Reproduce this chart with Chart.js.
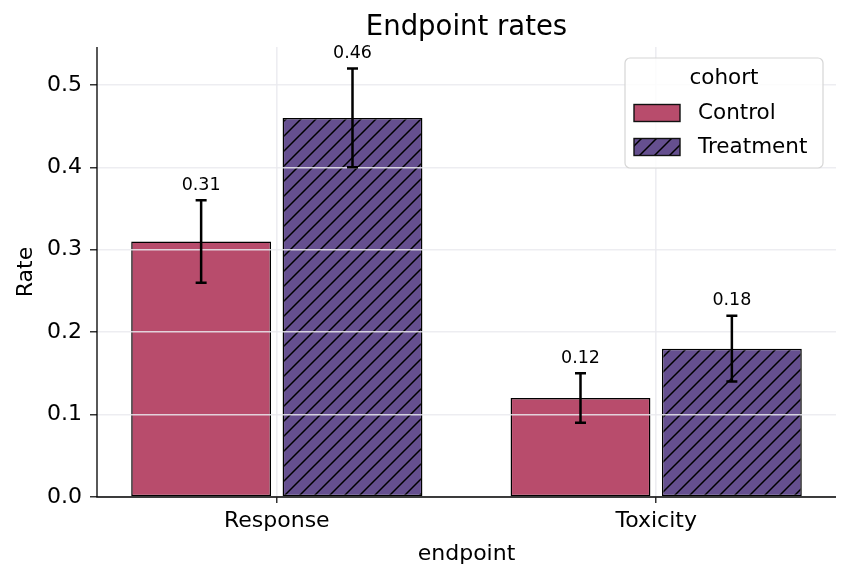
<!DOCTYPE html>
<html lang="en">
<head>
<meta charset="UTF-8">
<title>Endpoint rates</title>
<style>
  body { margin: 0; background: #fff; }
  canvas { display: block; }
</style>
</head>
<body>
<canvas id="chart" width="850" height="581"></canvas>
<script src="https://cdn.jsdelivr.net/npm/chart.js@4.4.0/dist/chart.umd.min.js"></script>
<script>
// data
var categories = ['Response', 'Toxicity'];
var cohorts = ['Control', 'Treatment'];
var controlRates = [0.31, 0.12];
var treatmentRates = [0.46, 0.18];
var controlErr = [0.05, 0.03];
var treatmentErr = [0.06, 0.04];

var FONT = 'DejaVu Sans';
var controlColor = '#b84c6c';
var treatmentColor = '#654f8f';
var gridColor = 'rgba(234,234,238,0.85)';

// diagonal hatch for the treatment bars
function makeHatch(base) {
  var s = 15;
  var c = document.createElement('canvas');
  c.width = s; c.height = s;
  var g = c.getContext('2d');
  g.fillStyle = base;
  g.fillRect(0, 0, s, s);
  g.strokeStyle = '#000';
  g.lineWidth = 1.5;
  g.beginPath();
  g.moveTo(0, s); g.lineTo(s, 0);
  g.moveTo(-s / 2, s / 2); g.lineTo(s / 2, -s / 2);
  g.moveTo(s / 2, s * 1.5); g.lineTo(s * 1.5, s / 2);
  g.stroke();
  return g.createPattern(c, 'repeat');
}
var hatch = makeHatch(treatmentColor);

function toPoints(vals) {
  return vals.map(function (v, i) { return { x: i, y: v }; });
}

var errors = [controlErr, treatmentErr];

// error bars + value labels, and the left/bottom spines
var errorBars = {
  id: 'errorBars',
  afterDraw: function (chart) {
    var ctx = chart.ctx;
    var ys = chart.scales.y;
    var a = chart.chartArea;
    ctx.save();
    ctx.strokeStyle = '#000';
    ctx.lineWidth = 1.3;
    ctx.beginPath();
    ctx.moveTo(a.left, a.top); ctx.lineTo(a.left, a.bottom); ctx.lineTo(a.right, a.bottom);
    ctx.stroke();
    chart.data.datasets.forEach(function (ds, di) {
      var meta = chart.getDatasetMeta(di);
      meta.data.forEach(function (bar, i) {
        var v = ds.data[i].y;
        var e = errors[di][i];
        var yTop = ys.getPixelForValue(v + e);
        var yBot = ys.getPixelForValue(v - e);
        ctx.strokeStyle = '#000';
        ctx.lineWidth = 2.5;
        ctx.beginPath();
        ctx.moveTo(bar.x, yTop); ctx.lineTo(bar.x, yBot);
        ctx.moveTo(bar.x - 5.5, yTop); ctx.lineTo(bar.x + 5.5, yTop);
        ctx.moveTo(bar.x - 5.5, yBot); ctx.lineTo(bar.x + 5.5, yBot);
        ctx.stroke();
        ctx.fillStyle = '#000';
        ctx.font = '17.5px "' + FONT + '"';
        ctx.textAlign = 'center';
        ctx.textBaseline = 'middle';
        ctx.fillText(v.toFixed(2), bar.x, yTop - 15);
      });
    });
    ctx.restore();
  }
};

var legendBox = {
  id: 'legendBox',
  afterDraw: function (chart) {
    var ctx = chart.ctx;
    var a = chart.chartArea;
    var w = 198, h = 110;
    var x = a.right - 13 - w, y = a.top + 11;
    ctx.save();
    ctx.beginPath();
    ctx.roundRect(x, y, w, h, 5);
    ctx.fillStyle = 'rgba(255,255,255,0.85)';
    ctx.fill();
    ctx.strokeStyle = '#d6d6d6';
    ctx.lineWidth = 1.2;
    ctx.stroke();
    ctx.fillStyle = '#000';
    ctx.font = '21.5px "' + FONT + '"';
    ctx.textAlign = 'center';
    ctx.textBaseline = 'middle';
    ctx.fillText('cohort', x + w / 2, y + 20);
    chart.data.datasets.forEach(function (ds, i) {
      var cy = y + 55 + i * 34;
      ctx.fillStyle = ds.backgroundColor;
      ctx.fillRect(x + 9, cy - 8.5, 46, 17);
      ctx.strokeStyle = '#111';
      ctx.lineWidth = 1.4;
      ctx.strokeRect(x + 9, cy - 8.5, 46, 17);
      ctx.fillStyle = '#000';
      ctx.textAlign = 'left';
      ctx.fillText(ds.label, x + 73, cy);
    });
    ctx.restore();
  }
};

new Chart(document.getElementById('chart'), {
  type: 'bar',
  data: {
    datasets: [
      {
        label: cohorts[0],
        data: toPoints(controlRates),
        backgroundColor: controlColor,
        borderColor: '#000',
        borderWidth: 1.5,
        borderSkipped: false
      },
      {
        label: cohorts[1],
        data: toPoints(treatmentRates),
        backgroundColor: hatch,
        borderColor: '#000',
        borderWidth: 1.5,
        borderSkipped: false
      }
    ]
  },
  options: {
    responsive: false,
    animation: false,
    devicePixelRatio: 1,
    categoryPercentage: 0.798,
    barPercentage: 0.924,
    layout: { padding: { left: 0, right: 14, top: 0, bottom: 0 } },
    plugins: {
      legend: { display: false },
      tooltip: { enabled: false },
      title: {
        display: true,
        text: 'Endpoint rates',
        fullSize: false,
        color: '#000',
        font: { family: FONT, size: 27.5, weight: 'normal' },
        padding: { top: 11, bottom: 3 }
      }
    },
    scales: {
      x: {
        type: 'linear',
        min: -0.474,
        max: 1.474,
        offset: false,
        afterBuildTicks: function (scale) {
          scale.ticks = categories.map(function (c, i) { return { value: i }; });
        },
        afterFit: function (scale) { scale.height = 84; },
        ticks: {
          color: '#000',
          font: { family: FONT, size: 22 },
          padding: 5,
          maxRotation: 0,
          autoSkip: false,
          callback: function (v) { return categories[v]; }
        },
        grid: {
          z: 1,
          offset: false,
          color: gridColor,
          lineWidth: 1.6,
          tickColor: '#000',
          tickLength: 6,
          tickWidth: 1.2
        },
        border: { display: false },
        title: {
          display: true,
          text: 'endpoint',
          color: '#000',
          font: { family: FONT, size: 22 },
          padding: { top: 0, bottom: 14 }
        }
      },
      y: {
        min: 0,
        max: 0.546,
        afterBuildTicks: function (scale) {
          scale.ticks = scale.ticks.filter(function (t) {
            return Math.abs(t.value * 10 - Math.round(t.value * 10)) < 1e-6;
          });
        },
        afterFit: function (scale) { scale.width = 97; },
        ticks: {
          stepSize: 0.1,
          color: '#000',
          font: { family: FONT, size: 22 },
          padding: 8,
          callback: function (v) { return v.toFixed(1); }
        },
        grid: {
          z: 1,
          color: gridColor,
          lineWidth: 1.6,
          tickColor: '#000',
          tickLength: 7,
          tickWidth: 1.2
        },
        border: { display: false },
        title: {
          display: true,
          text: 'Rate',
          color: '#000',
          font: { family: FONT, size: 22 },
          padding: { top: 13, bottom: 0 }
        }
      }
    }
  },
  plugins: [errorBars, legendBox]
});
</script>
</body>
</html>
